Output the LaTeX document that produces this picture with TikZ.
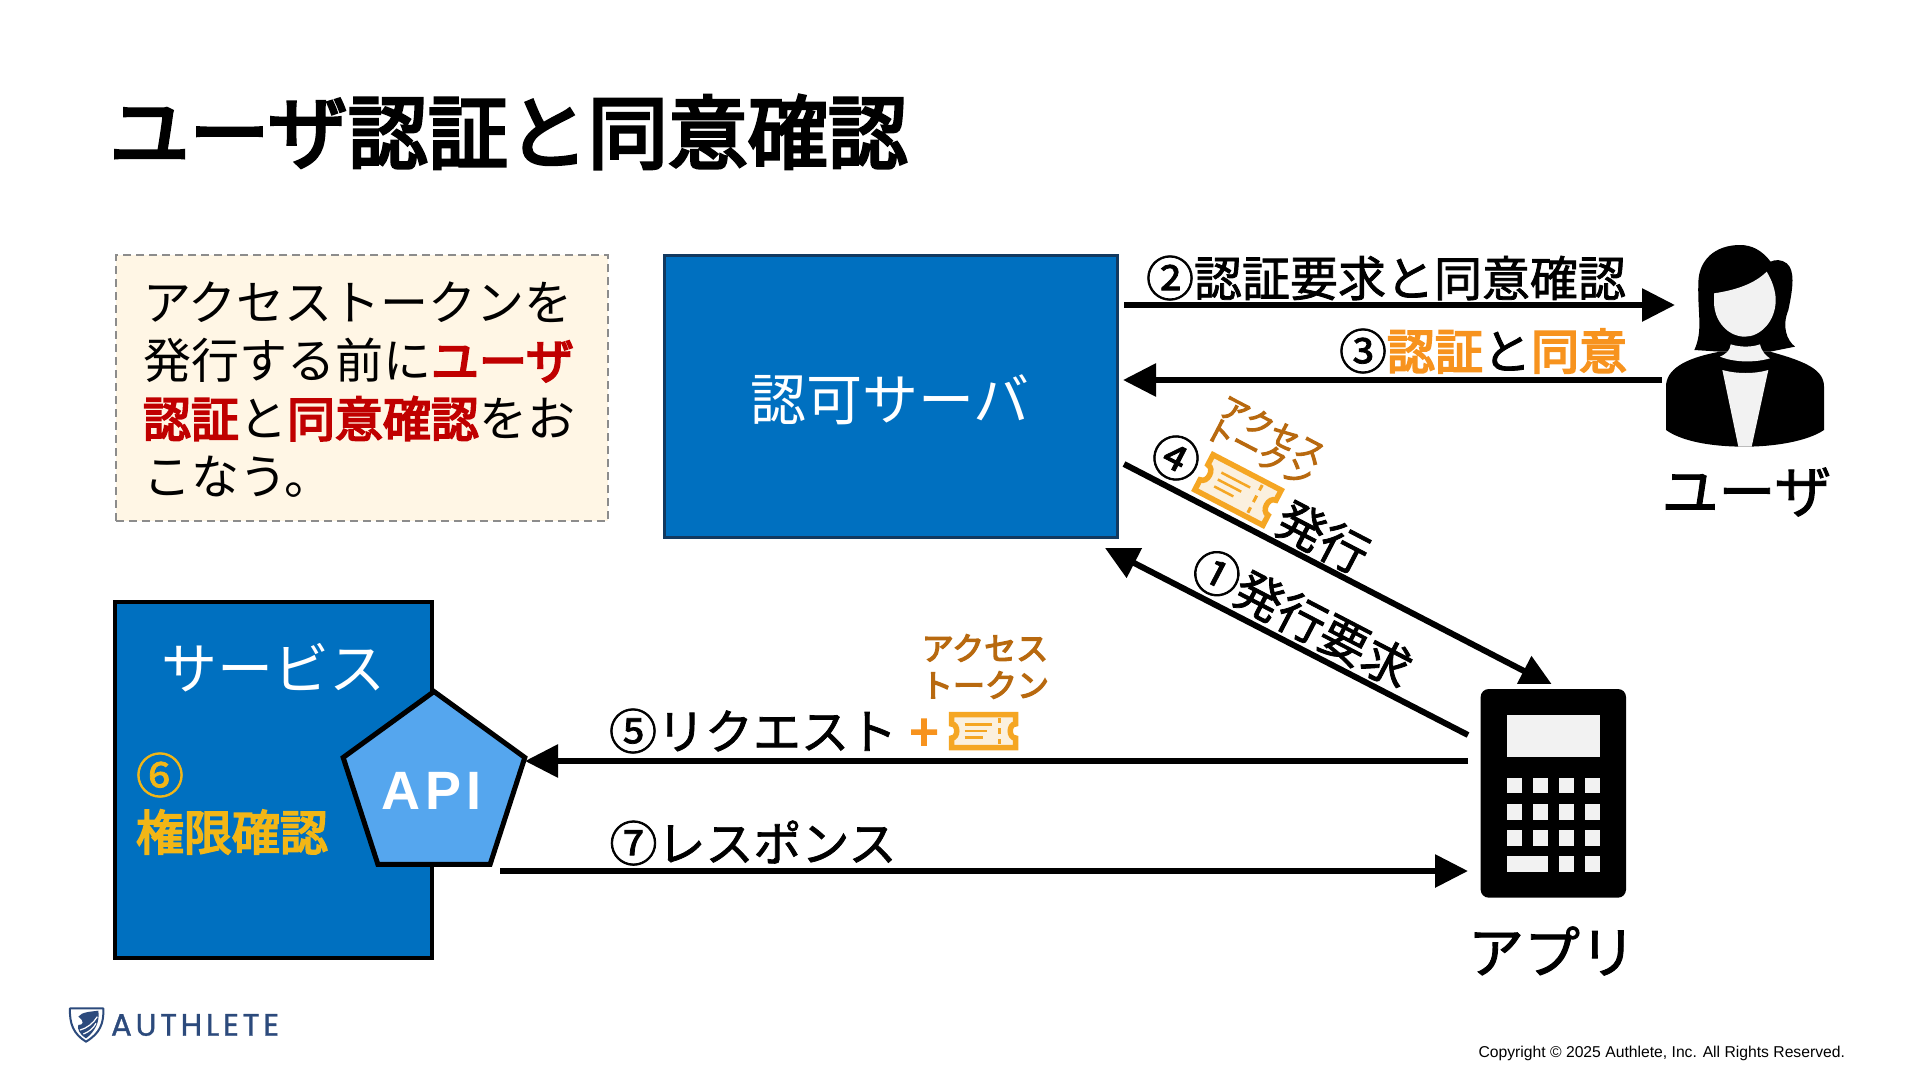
\documentclass[tikz,border=0pt]{standalone}
\usepackage{fontspec}
\setmainfont{Noto Sans CJK JP}[FakeBold=1.6]
\newfontfamily\plainfont{Noto Sans CJK JP}
\newfontfamily\strongfont{Noto Sans CJK JP}[FakeBold=4]
\newfontfamily\latinfont{Liberation Sans}
\newfontfamily\logofont{Poppins}[LetterSpace=12,FakeBold=1]
\usetikzlibrary{arrows.meta,shapes.geometric}
\definecolor{blueA}{HTML}{0070C0}
\definecolor{blueB}{HTML}{55A6EE}
\definecolor{navy}{HTML}{12395F}
\definecolor{noteBg}{HTML}{FFF6E5}
\definecolor{noteLn}{HTML}{8C8C8C}
\definecolor{redA}{HTML}{C00000}
\definecolor{orgA}{HTML}{F7931E}
\definecolor{yelA}{HTML}{F2B616}
\definecolor{brnA}{HTML}{B8690F}
\definecolor{tickA}{HTML}{F5A623}
\definecolor{tickB}{HTML}{FBF0DE}
\definecolor{logoC}{HTML}{2C4A7C}
\definecolor{iconL}{HTML}{F2F2F2}
\newcommand{\fsz}[1]{\fontsize{#1}{#1}\selectfont}
\newcommand{\rb}[1]{\textcolor{redA}{\strongfont #1}}
\newcommand{\ob}[1]{\textcolor{orgA}{\strongfont #1}}
\tikzset{
  x=1pt,y=-1pt,
  every node/.style={inner sep=0pt,outer sep=0pt},
  lab/.style={font=\fsz{48},text=black,anchor=center},
  flow/.style={line width=6pt,draw=black,-{Triangle[length=33pt,width=32pt]}},
  tok/.style={font=\strongfont\fsz{29},text=brnA,anchor=center},
  pics/ticket/.style={code={
    \draw[line width=5.5pt,draw=tickA,fill=tickB,line join=miter]
      (-32,-16.5)--(32,-16.5)--(32,-7) .. controls (25,-7) and (25,7) .. (32,7)
      --(32,16.5)--(-32,16.5)--(-32,7) .. controls (-25,7) and (-25,-7) .. (-32,-7)--cycle;
    \draw[line width=2.5pt,draw=tickA] (-19,-6.5)--(8,-6.5) (-19,0)--(3,0) (-19,6.5)--(-1,6.5);
    \draw[line width=3pt,draw=tickA] (16,-13)--(16,-8) (16,-3)--(16,3) (16,8)--(16,13);
  }}
}
\begin{document}
\begin{tikzpicture}
\useasboundingbox (0,0) rectangle (1920,1080);
\fill[white] (0,0) rectangle (1920,1080);

% endpoints
\coordinate (a2s) at (1124,305); \coordinate (a2e) at (1675,305);
\coordinate (a3s) at (1662,380); \coordinate (a3e) at (1123,380);
\coordinate (a4s) at (1124,464); \coordinate (a4e) at (1553,686);
\coordinate (a1s) at (1468,735); \coordinate (a1e) at (1105,548);
\coordinate (a5s) at (1468,761); \coordinate (a5e) at (525,761);
\coordinate (a7s) at (500,871); \coordinate (a7e) at (1468,871);

% title
\node[anchor=west,font=\strongfont\fsz{80}] (title) at (109.5,132) {ユーザ認証と同意確認};

% note
\node[anchor=north west,draw=noteLn,fill=noteBg,line width=2.5pt,dash pattern=on 8pt off 5pt,minimum width=492pt,minimum height=266pt] (note) at (116,255) {};
\node[anchor=west,font=\plainfont\fontsize{48}{58}\selectfont,align=left] (notetext) at (143,390) {アクセストークンを\\発行する前に\rb{ユーザ}\\\rb{認証}と\rb{同意確認}をお\\こなう。};

% auth server
\node[anchor=north west,draw=navy,fill=blueA,line width=3.5pt,minimum width=453pt,minimum height=282pt] (auth) at (664.5,255.5) {};
\node[text=white,font=\plainfont\fsz{56}] (authlabel) at (890,400) {認可サーバ};

% service
\node[anchor=north west,draw=black,fill=blueA,line width=4pt,minimum width=317pt,minimum height=356pt] (service) at (115,602) {};
\node[font=\plainfont\fsz{56},text=white] (svclabel) at (273,668) {サービス};
\node[font=\fsz{48},text=yelA] (six) at (160,775) {⑥};
\node[font=\strongfont\fsz{48},text=yelA] (perm) at (232,832) {権限確認};
\node[regular polygon,regular polygon sides=5,minimum size=191pt,draw=black,fill=blueB,line width=5pt] (api) at (434,787) {};
\node[font=\latinfont\fsz{54}\bfseries,text=white] (apilabel) at (432,791) {A\kern5pt P\kern5pt I};

% connector that runs under the app icon's white ground
\draw[flow] (a4s) -- (a4e);
\fill[white] (1468,684) rectangle (1650,915);

\draw[flow] (a2s) -- (a2e);
\draw[flow] (a3s) -- (a3e);
\draw[flow] (a1s) -- (a1e);
\draw[flow] (a5s) -- (a5e);
\draw[flow] (a7s) -- (a7e);

% flow labels
\node[lab] (l2) at (1386,278) {②認証要求と同意確認};
\node[lab,anchor=east] (l3) at (1627,351) {③\ob{認証}と\ob{同意}};
\node[lab,rotate=-27.5] (l4) at (1176,458) {④};
\node[lab,rotate=-27.5] (l4b) at (1323,537) {発行};
\node[lab,rotate=-27.5] (l1) at (1302,618) {①発行要求};
\node[lab] (l5) at (753,731) {⑤リクエスト};
\node[lab] (l7) at (753,843) {⑦レスポンス};
\node[tok,font=\strongfont\fsz{32}] (t5a) at (985,648) {アクセス};
\node[tok,font=\strongfont\fsz{32}] (t5b) at (985,685) {トークン};
\node[tok,rotate=-27.5] (t4a) at (1273,430) {アクセス};
\node[tok,rotate=-27.5] (t4b) at (1259,452) {トークン};
\node[font=\strongfont\fsz{50},text=orgA] (plus) at (924,735) {+};
\pic at (983.5,731) {ticket};
\pic[scale=1.2,rotate=-27.5] at (1238,490) {ticket};

% user icon
\begin{scope}[shift={(1640,230)},x=0.33333pt,y=-0.33333pt]
\fill[black] (78,600) -- (78,470) .. controls (78,420) and (130,385) .. (240,365) -- (390,365) .. controls (500,395) and (552,420) .. (552,470) -- (552,600) .. controls (500,635) and (400,650) .. (315,650) .. controls (200,650) and (120,630) .. (78,600) -- cycle;
\fill[black] (300,45) .. controls (225,45) and (175,90) .. (175,160) .. controls (172,250) and (190,300) .. (163,360) -- (240,365) -- (390,365) -- (465,350) .. controls (440,330) and (425,290) .. (445,240) .. controls (460,170) and (465,120) .. (440,100) .. controls (425,88) and (405,88) .. (392,95) .. controls (365,60) and (335,45) .. (300,45) -- cycle;
\fill[iconL] (222,190) .. controls (290,180) and (345,160) .. (380,125) .. controls (395,150) and (407,180) .. (407,210) .. controls (407,275) and (360,320) .. (315,320) .. controls (265,320) and (222,275) .. (222,215) -- cycle;
\fill[iconL] (272,343) .. controls (300,352) and (335,352) .. (360,343) .. controls (365,365) and (378,378) .. (390,385) .. controls (345,398) and (285,398) .. (240,380) .. controls (262,370) and (270,360) .. (272,343) -- cycle;
\fill[iconL] (247,420) .. controls (290,432) and (345,432) .. (385,420) -- (335,650) -- (295,650) -- cycle;
\end{scope}
\node[font=\fsz{57}] (userlabel) at (1746.5,492) {ユーザ};

% app icon
\begin{scope}[shift={(1460,670)},x=0.33333pt,y=-0.33333pt]
\fill[black,rounded corners=8pt] (62,57) rectangle (498,683);
\fill[iconL] (140,135) rectangle (421,260);
\foreach \yy in {323,402,481}{
  \foreach \xx in {140,218,296,374}{
    \fill[iconL] (\xx,\yy) rectangle ++(47,47);
  }
}
\fill[iconL] (140,559) rectangle (265,605);
\fill[iconL] (296,559) rectangle ++(47,46);
\fill[iconL] (374,559) rectangle ++(47,46);
\end{scope}
\node[font=\fsz{56}] (applabel) at (1552,951) {アプリ};

% logo
\begin{scope}[shift={(50,990)},x=0.33333pt,y=-0.33333pt]
\draw[logoC,line width=2pt,line join=round] (60,55) -- (160,55) .. controls (162,100) and (150,130) .. (108,155) .. controls (70,132) and (58,100) .. (60,55) -- cycle;
\fill[logoC] (85,80) .. controls (95,65) and (125,65) .. (145,62) .. controls (150,95) and (135,125) .. (108,145) .. controls (90,135) and (80,115) .. (85,105) .. controls (100,105) and (105,95) .. (85,80) -- cycle;
\draw[white,line width=1.2pt] (90,120) .. controls (110,115) and (130,100) .. (142,80) (100,132) .. controls (118,125) and (130,115) .. (138,100);
\end{scope}
\node[anchor=west,font=\logofont\fsz{31},text=logoC] (logo) at (111,1025) {AUTHLETE};

% copyright
\node[anchor=east,font=\latinfont\fsz{15.7},text=black] (copy) at (1845,1053) {Copyright © 2025 Authlete, Inc. All Rights Reserved.};
\end{tikzpicture}
\end{document}
